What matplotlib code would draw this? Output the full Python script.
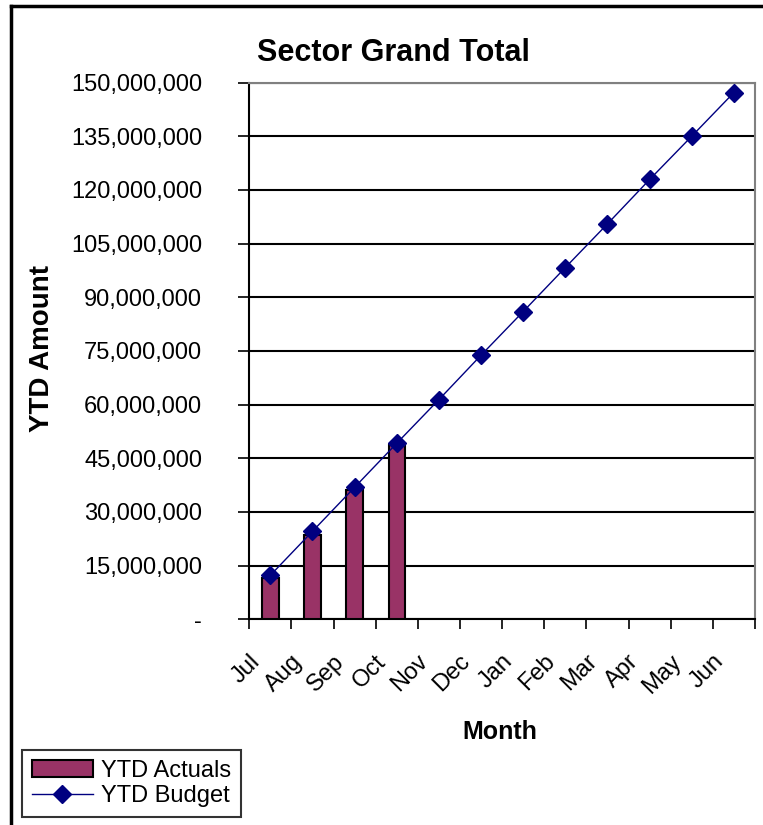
import matplotlib
matplotlib.use("Agg")
import matplotlib.pyplot as plt
import matplotlib.transforms as mtransforms
from matplotlib.ticker import FuncFormatter
from matplotlib.lines import Line2D
import numpy as np

plt.rcParams['font.family'] = ['Liberation Sans', 'DejaVu Sans']

# data
months = ["Jul", "Aug", "Sep", "Oct", "Nov", "Dec", "Jan", "Feb", "Mar", "Apr", "May", "Jun"]
ytd_actuals = [11.5e6, 23.6e6, 36.1e6, 48.8e6]
ytd_budget = [12.3e6, 24.6e6, 36.9e6, 49.2e6, 61.4e6, 73.8e6,
              86.0e6, 98.3e6, 110.5e6, 122.9e6, 135.0e6, 147.2e6]
y_ticks = [0, 15e6, 30e6, 45e6, 60e6, 75e6, 90e6, 105e6, 120e6, 135e6, 150e6]

fig = plt.figure(figsize=(7.63, 8.25), dpi=100)
ax = fig.add_axes([0.3267, 0.2493, 0.9895 - 0.3267, 0.9 - 0.2493])

x = np.arange(len(months))
bars = ax.bar(x[:len(ytd_actuals)], ytd_actuals, width=0.39, color="#993366",
              edgecolor="black", linewidth=1.5, zorder=3, label="YTD Actuals")
line, = ax.plot(x, ytd_budget, color="#000080", linewidth=1, marker="D", markersize=9,
                zorder=4, label="YTD Budget")

ax.set_xlim(-0.5, len(months) - 0.5)
ax.set_ylim(0, 150e6)
ax.set_yticks(y_ticks)
ax.yaxis.set_major_formatter(FuncFormatter(lambda v, p: "-" if v == 0 else f"{v:,.0f}"))
ax.tick_params(axis="y", direction="inout", length=16, width=1.2, labelsize=17, pad=26)
ax.grid(axis="y", color="black", linewidth=1.5, zorder=0)

# category boundaries carry the tick marks, labels sit at centers
ax.set_xticks(np.arange(-0.5, len(months), 1.0), minor=True)
ax.set_xticks(x)
ax.set_xticklabels(months, rotation=45, ha="right", va="center", rotation_mode="anchor")
ax.tick_params(axis="x", which="major", length=0, labelsize=17, pad=28)
ax.tick_params(axis="x", which="minor", direction="out", length=7, width=1.2)
offset = mtransforms.ScaledTranslation(-14 / 100, 0, fig.dpi_scale_trans)
for lbl in ax.get_xticklabels():
    lbl.set_transform(lbl.get_transform() + offset)

for s in ["top", "right"]:
    ax.spines[s].set_color("#808080")
    ax.spines[s].set_linewidth(1.5)
for s in ["left", "bottom"]:
    ax.spines[s].set_color("black")
    ax.spines[s].set_linewidth(1.5)

fig.text(0.515, 0.936, "Sector Grand Total", fontsize=22, fontweight="bold",
         ha="center", va="center")
fig.text(0.055, 0.578, "YTD Amount", fontsize=20, fontweight="bold",
         rotation=90, ha="center", va="center")
fig.text(0.655, 0.113, "Month", fontsize=18, fontweight="bold", ha="center", va="center")

# outer frame lines (top and left)
fig.add_artist(Line2D([0.014, 1.0], [0.993, 0.993], color="black", linewidth=2.5))
fig.add_artist(Line2D([0.014, 0.014], [0.0, 0.993], color="black", linewidth=2.5))

leg = fig.legend(handles=[bars, line], loc="lower left", bbox_to_anchor=(0.029, 0.01),
                 fontsize=17, frameon=True, fancybox=False, edgecolor="black",
                 borderpad=0.4, handlelength=2.6, handletextpad=0.35, labelspacing=0.15,
                 borderaxespad=0)
leg.get_frame().set_linewidth(1.5)

fig.savefig("out.png", dpi=100)
